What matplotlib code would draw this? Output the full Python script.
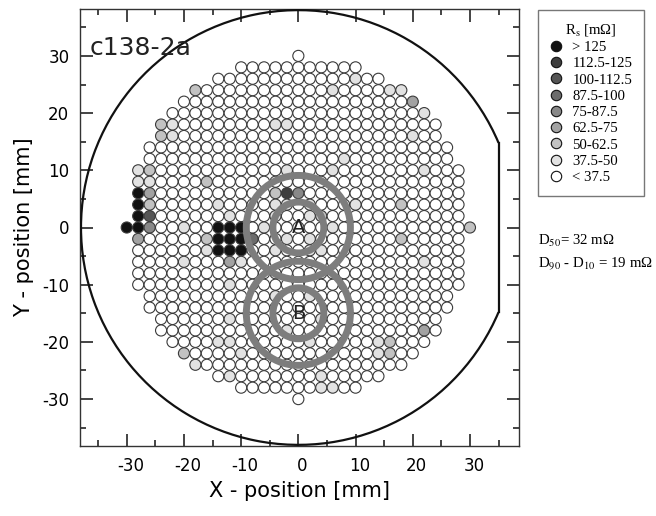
import numpy as np
import matplotlib
matplotlib.use('Agg')
import matplotlib.pyplot as plt
import matplotlib.transforms as mtransforms
from matplotlib.patches import Circle, Arc
from matplotlib.lines import Line2D

plt.rcParams['axes.unicode_minus'] = False
plt.rcParams['mathtext.fontset'] = 'stix'

# wafer layout: die rows (y in mm) and half-width of each row (max |x|), 2 mm pitch
row_y = [30, 28, 26, 24, 22, 20, 18, 16, 14, 12, 10, 8, 6, 4, 2, 0,
         -2, -4, -6, -8, -10, -12, -14, -16, -18, -20, -22, -24, -26, -28, -30]
row_half = [0, 10, 14, 18, 20, 22, 24, 24, 26, 26, 28, 28, 28, 28, 28, 30,
            28, 28, 28, 28, 28, 26, 26, 24, 24, 22, 20, 18, 14, 10, 0]

# Rs classes (legend) and their grey levels
classes = ['> 125', '112.5-125', '100-112.5', '87.5-100', '75-87.5',
           '62.5-75', '50-62.5', '37.5-50', '< 37.5']
class_colors = ['#111111', '#3e3e3e', '#555555', '#6c6c6c', '#888888',
                '#a2a2a2', '#c2c2c2', '#e2e2e2', '#ffffff']

# dies that are not in the lowest class, per class index
dies_0 = [(-30, 0), (-28, 0), (-28, 2), (-28, 4), (-28, 6),
          (-14, 0), (-12, 0), (-10, 0), (-14, -2), (-12, -2), (-10, -2),
          (-14, -4), (-12, -4), (-10, -4)]
dies_1 = [(-2, 6)]
dies_2 = [(-26, 2)]
dies_3 = [(-8, -2)]
dies_4 = [(-26, 0), (0, 6)]
dies_5 = [(-26, 6), (-28, -2), (-12, -6), (22, -18), (20, 22)]
dies_6 = [(-18, 24), (-24, 18), (-24, 16), (-26, 10), (-16, 8), (-26, 4),
          (-4, 6), (18, 4), (18, -2), (16, -20), (16, -22), (-20, -22),
          (30, 0), (-16, -2), (4, 2)]
dies_7 = [(-22, 18), (-22, 16), (-4, 18), (-2, 18), (-28, 10), (-28, 8),
          (-26, 8), (10, 26), (6, 24), (16, 24), (18, 24), (22, 20), (20, 16),
          (8, 12), (6, 10), (22, 10), (-2, 10), (-14, 4), (-12, 2), (-20, 0),
          (-16, -4), (-10, -6), (-20, -6), (10, 4), (22, -6), (14, -20),
          (14, -22), (-14, -20), (-12, -20), (-10, -22), (-18, -24), (4, -26),
          (4, -28), (6, -28), (-12, -10), (-12, -16), (-12, -26),
          (-4, 4), (-2, 4), (2, 4), (-4, 2), (2, 2), (-2, -2), (2, -2),
          (4, -4), (-4, -4), (2, -4), (-6, 0), (6, 0), (-4, -12), (2, -12),
          (-2, -18), (4, -16), (2, -20)]
dies_by_class = [dies_0, dies_1, dies_2, dies_3, dies_4, dies_5, dies_6, dies_7]

wafer_r = 38.0
flat_x = 35.0
die_pitch = 2.0

cls = {}
for k, lst in enumerate(dies_by_class):
    for p in lst:
        cls[p] = k

fig = plt.figure(figsize=(6.56, 5.16), dpi=100)
ax = fig.add_axes([80/656, 70/516, 439/656, 437/516])
ax.set_xlim(-38.1, 38.5)
ax.set_ylim(-38.2, 38.2)
ax.set_aspect('equal', adjustable='box')

# dies
for y, h in zip(row_y, row_half):
    for x in np.arange(-h, h + 1, die_pitch):
        k = cls.get((int(x), y), 8)
        ax.add_patch(Circle((x, y), 0.97, facecolor=class_colors[k],
                            edgecolor='#3a3a3a', lw=0.8, zorder=2))

# wafer outline with flat
a = np.degrees(np.arccos(flat_x / wafer_r))
ax.add_patch(Arc((0, 0), 2*wafer_r, 2*wafer_r, theta1=a, theta2=360 - a,
                 color='#111111', lw=1.6, zorder=3))
yf = np.sqrt(wafer_r**2 - flat_x**2)
ax.plot([flat_x, flat_x], [-yf, yf], color='#111111', lw=1.6, zorder=3)

# measurement rings A and B
ring_c = '#7d7d7d'
for cy in [0, -15]:
    ax.add_patch(Circle((0, cy), 9.1, fill=False, edgecolor=ring_c, lw=5, zorder=4))
    ax.add_patch(Circle((0, cy), 4.45, fill=False, edgecolor=ring_c, lw=5, zorder=4))
ax.text(0, 0, 'A', ha='center', va='center', fontsize=14, color='#222222', zorder=5)
ax.text(0, -15, 'B', ha='center', va='center', fontsize=14, color='#222222', zorder=5)

ax.text(-36.5, 31.3, 'c138-2a', fontsize=18, color='#222222', va='center')

ax.set_xticks(np.arange(-30, 31, 10))
ax.set_yticks(np.arange(-30, 31, 10))
ax.set_xticks(np.arange(-35, 36, 5), minor=True)
ax.set_yticks(np.arange(-35, 36, 5), minor=True)
ax.tick_params(which='both', direction='in', top=True, right=True,
               labelsize=12, width=1.1, color='#111111')
ax.tick_params(which='major', length=9, pad=8)
ax.tick_params(which='minor', length=4.5)
shift = mtransforms.ScaledTranslation(4/100, 0, fig.dpi_scale_trans)
for lab in ax.get_xticklabels():
    lab.set_transform(lab.get_transform() + shift)
for s in ax.spines.values():
    s.set_linewidth(1.0)
    s.set_color('#333333')
ax.set_xlabel('X - position [mm]', fontsize=15, labelpad=4)
ax.set_ylabel('Y - position [mm]', fontsize=15, labelpad=6)

# legend
handles = [Line2D([], [], ls='none', marker='o', markersize=7.5,
                  markerfacecolor=c, markeredgecolor='#111111', markeredgewidth=0.8)
           for c in class_colors]
leg = fig.legend(handles, classes, loc='upper left',
                 bbox_to_anchor=(538/656, 1 - 10/516), borderaxespad=0,
                 title='R$_\\mathrm{s}$ [m\u03a9]', frameon=True, fancybox=False,
                 edgecolor='#555555', handlelength=0.9, handletextpad=0.64,
                 labelspacing=0.2, borderpad=0.8,
                 prop={'family': 'Liberation Serif', 'size': 10.6})
leg.get_title().set_fontfamily('Liberation Serif')
leg.get_title().set_fontsize(10.6)
leg.get_frame().set_linewidth(1.0)

fig.text(538/656, 1 - 245/516, 'D$_{50}$= 32 m\u03a9', fontsize=10.7,
         family='Liberation Serif')
fig.text(538/656, 1 - 267/516, 'D$_{90}$ - D$_{10}$ = 19 m\u03a9', fontsize=10.7,
         family='Liberation Serif')

fig.savefig('out.png', dpi=100)
